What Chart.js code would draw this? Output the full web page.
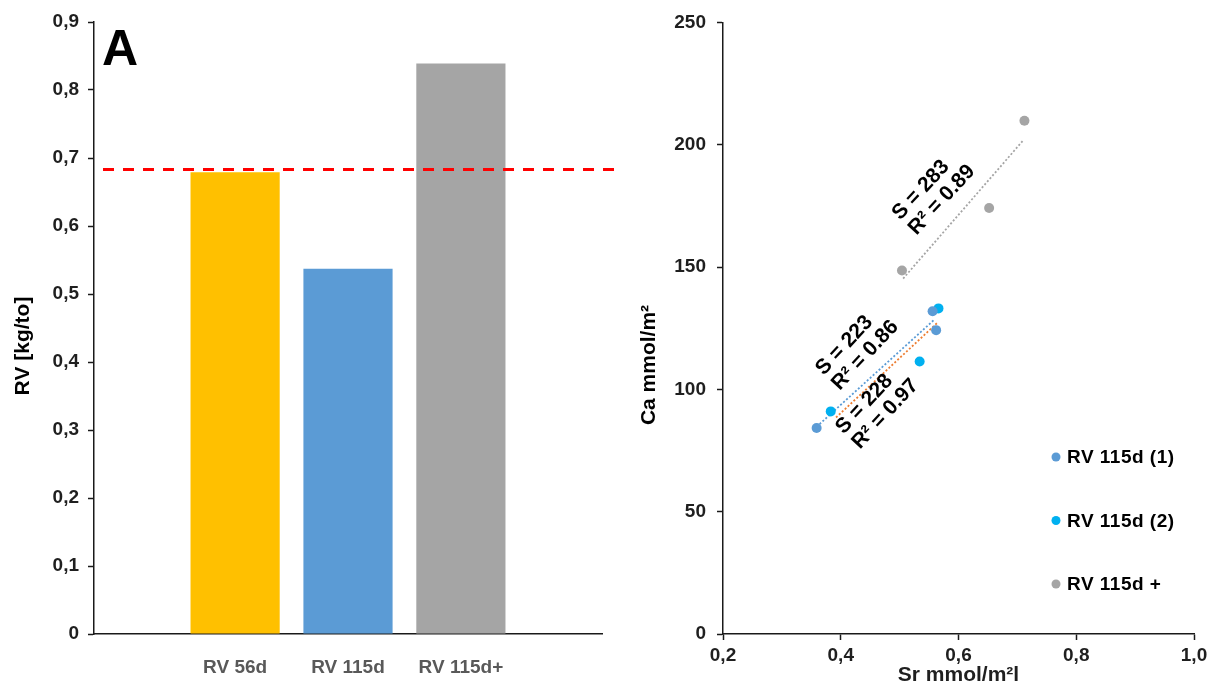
<!DOCTYPE html>
<html>
<head>
<meta charset="utf-8">
<script src="https://cdn.jsdelivr.net/npm/chart.js@4.4.1/dist/chart.umd.min.js"></script>
<style>
  html, body { margin: 0; padding: 0; background: #fff; }
  #wrap { position: relative; width: 1212px; height: 688px; }
  .box { position: absolute; top: 0; height: 688px; }
  #left { left: 0; width: 620px; }
  #right { left: 620px; width: 592px; }
</style>
</head>
<body>
<div id="wrap">
  <div class="box" id="left"><canvas id="barChart"></canvas></div>
  <div class="box" id="right"><canvas id="scatterChart"></canvas></div>
</div>
<script>
// panel A - bars
const barCategories = ["RV 56d", "RV 115d", "RV 115d+"];
const barValues = [0.679, 0.537, 0.839];
const referenceValue = 0.683;
const leftTickLabels = ["0", "0,1", "0,2", "0,3", "0,4", "0,5", "0,6", "0,7", "0,8", "0,9"];

// scatter panel
const seriesNames = ["RV 115d (1)", "RV 115d (2)", "RV 115d +"];
const srSeries1 = [0.359, 0.556, 0.562];
const caSeries1 = [84.2, 131.9, 124.2];
const srSeries2 = [0.383, 0.534, 0.566];
const caSeries2 = [91.0, 111.4, 133.1];
const srSeries3 = [0.504, 0.652, 0.712];
const caSeries3 = [148.6, 174.1, 209.8];

// trend lines (start / end)
const trendSr1 = [0.359, 0.558];
const trendCa1 = [84.7, 128.3];
const trendSr2 = [0.392, 0.564];
const trendCa2 = [88.5, 127.2];
const trendSr3 = [0.506, 0.710];
const trendCa3 = [145.3, 201.8];

const fitSlopes = ["S = 223", "S = 228", "S = 283"];
const fitR2 = ["R\u00B2 = 0.86", "R\u00B2 = 0.97", "R\u00B2 = 0.89"];
const fitLabelSr = [0.428, 0.462, 0.558];
const fitLabelCa = [117.0, 93.0, 180.5];

const srTickLabels = ["0,2", "0,4", "0,6", "0,8", "1,0"];
const caTickLabels = ["0", "50", "100", "150", "200", "250"];

const FONT = "'Liberation Sans', Arial, sans-serif";
Chart.defaults.font.family = FONT;
Chart.defaults.color = "#1f1f1f";

const barColors = ["#FFC000", "#5B9BD5", "#A5A5A5"];
const pointColors = ["#5B9BD5", "#00B0F0", "#A5A5A5"];
const trendColors = ["#5B9BD5", "#ED7D31", "#A5A5A5"];

function toPoints(xs, ys) {
    return xs.map((x, i) => ({ x: x, y: ys[i] }));
}

// free text (panel letter, y titles)
const panelText = {
    id: "panelText",
    afterDraw(chart, args, opts) {
        const ctx = chart.ctx;
        (opts.items || []).forEach((item) => {
            ctx.save();
            ctx.font = item.font;
            ctx.fillStyle = item.color || "#000";
            ctx.textAlign = item.align || "center";
            ctx.textBaseline = item.baseline || "middle";
            ctx.translate(item.x, item.y);
            if (item.rotate) ctx.rotate((item.rotate * Math.PI) / 180);
            ctx.fillText(item.text, 0, 0);
            ctx.restore();
        });
    },
};

const refLine = {
    id: "refLine",
    afterDatasetsDraw(chart) {
        const { ctx, chartArea, scales } = chart;
        const py = scales.y.getPixelForValue(referenceValue);
        ctx.save();
        ctx.strokeStyle = "#FF0000";
        ctx.lineWidth = 3;
        ctx.setLineDash([11, 9]);
        ctx.beginPath();
        ctx.moveTo(chartArea.left + 9, py);
        ctx.lineTo(chart.width, py);
        ctx.stroke();
        ctx.restore();
    },
};

const fitLabels = {
    id: "fitLabels",
    afterDatasetsDraw(chart) {
        const { ctx, scales } = chart;
        ctx.save();
        ctx.font = "bold 21px " + FONT;
        ctx.fillStyle = "#000";
        ctx.textBaseline = "middle";
        ctx.textAlign = "left";
        for (let i = 0; i < fitSlopes.length; i++) {
            const px = scales.x.getPixelForValue(fitLabelSr[i]);
            const py = scales.y.getPixelForValue(fitLabelCa[i]);
            const w = Math.max(ctx.measureText(fitSlopes[i]).width, ctx.measureText(fitR2[i]).width);
            ctx.save();
            ctx.translate(px, py);
            ctx.rotate((-47 * Math.PI) / 180);
            ctx.fillText(fitSlopes[i], -w / 2, -11);
            ctx.fillText(fitR2[i], -w / 2, 11);
            ctx.restore();
        }
        ctx.restore();
    },
};

const sideLegend = {
    id: "sideLegend",
    afterDraw(chart) {
        const ctx = chart.ctx;
        ctx.save();
        ctx.font = "bold 19px " + FONT;
        ctx.textBaseline = "middle";
        ctx.textAlign = "left";
        ctx.letterSpacing = "0.5px";
        for (let i = 0; i < seriesNames.length; i++) {
            const y = 457 + i * 63.5;
            ctx.fillStyle = pointColors[i];
            ctx.beginPath();
            ctx.arc(436, y, 4.5, 0, Math.PI * 2);
            ctx.fill();
            ctx.fillStyle = "#000";
            ctx.fillText(seriesNames[i], 447, y + 1);
        }
        ctx.restore();
    },
};

new Chart(document.getElementById("barChart"), {
    type: "bar",
    data: {
        datasets: [
            {
                data: toPoints([0, 1, 2], barValues),
                backgroundColor: barColors,
                barPercentage: 0.79,
                categoryPercentage: 1,
            },
        ],
    },
    options: {
        responsive: true,
        maintainAspectRatio: false,
        animation: false,
        layout: { padding: { top: 22, right: 18, left: 0, bottom: 0 } },
        plugins: {
            legend: { display: false },
            tooltip: { enabled: false },
            panelText: {
                items: [
                    { text: "A", x: 102, y: 65, align: "left", baseline: "alphabetic", font: "bold 50px " + FONT },
                    { text: "RV [kg/to]", x: 23, y: 346, rotate: -90, font: "bold 21px " + FONT },
                ],
            },
        },
        scales: {
            x: {
                type: "linear",
                offset: false,
                min: -1.25,
                max: 3.25,
                afterBuildTicks: (axis) => {
                    axis.ticks = barCategories.map((c, i) => ({ value: i }));
                },
                afterFit: (scale) => {
                    scale.height = 54;
                },
                grid: { display: false, offset: false },
                border: { color: "#1a1a1a", width: 1.5 },
                ticks: {
                    callback: (v, i) => barCategories[i],
                    color: "#595959",
                    font: { size: 19, weight: "bold" },
                    padding: 14,
                    maxRotation: 0,
                    autoSkip: false,
                },
            },
            y: {
                min: 0,
                max: 0.9,
                afterFit: (scale) => {
                    scale.width = 94;
                },
                grid: { drawOnChartArea: false, tickLength: 6, tickColor: "#1a1a1a", tickWidth: 1.5 },
                border: { color: "#1a1a1a", width: 1.5 },
                ticks: {
                    stepSize: 0.1,
                    callback: (v, i) => leftTickLabels[i],
                    font: { size: 19, weight: "bold" },
                    padding: 9,
                },
            },
        },
    },
    plugins: [refLine, panelText],
});

new Chart(document.getElementById("scatterChart"), {
    type: "scatter",
    data: {
        datasets: [
            { label: seriesNames[0], data: toPoints(srSeries1, caSeries1), backgroundColor: pointColors[0], borderWidth: 0, pointRadius: 5, order: 0 },
            { label: seriesNames[1], data: toPoints(srSeries2, caSeries2), backgroundColor: pointColors[1], borderWidth: 0, pointRadius: 5, order: 0 },
            { label: seriesNames[2], data: toPoints(srSeries3, caSeries3), backgroundColor: pointColors[2], borderWidth: 0, pointRadius: 5, order: 0 },
            { data: toPoints(trendSr1, trendCa1), showLine: true, borderColor: trendColors[0], borderWidth: 1.8, borderDash: [2, 2], pointRadius: 0, order: 1 },
            { data: toPoints(trendSr2, trendCa2), showLine: true, borderColor: trendColors[1], borderWidth: 1.8, borderDash: [2, 2], pointRadius: 0, order: 1 },
            { data: toPoints(trendSr3, trendCa3), showLine: true, borderColor: trendColors[2], borderWidth: 1.8, borderDash: [2, 2], pointRadius: 0, order: 1 },
        ],
    },
    options: {
        responsive: true,
        maintainAspectRatio: false,
        animation: false,
        layout: { padding: { top: 22, right: 18, left: 0, bottom: 0 } },
        plugins: {
            legend: { display: false },
            tooltip: { enabled: false },
            panelText: {
                items: [{ text: "Ca mmol/m\u00B2", x: 29, y: 365, rotate: -90, font: "bold 21px " + FONT }],
            },
        },
        scales: {
            x: {
                type: "linear",
                min: 0.2,
                max: 1.0,
                afterFit: (scale) => {
                    scale.height = 54;
                },
                grid: { drawOnChartArea: false, tickLength: 6, tickColor: "#1a1a1a", tickWidth: 1.5 },
                border: { color: "#1a1a1a", width: 1.5 },
                ticks: {
                    stepSize: 0.2,
                    callback: (v, i) => srTickLabels[i],
                    font: { size: 19, weight: "bold" },
                    padding: 4,
                    maxRotation: 0,
                },
                title: {
                    display: true,
                    text: "Sr mmol/m\u00B2l",
                    font: { size: 21, weight: "bold" },
                    color: "#1f1f1f",
                    padding: 0,
                },
            },
            y: {
                min: 0,
                max: 250,
                afterFit: (scale) => {
                    scale.width = 103;
                },
                grid: { drawOnChartArea: false, tickLength: 6, tickColor: "#1a1a1a", tickWidth: 1.5 },
                border: { color: "#1a1a1a", width: 1.5 },
                ticks: {
                    stepSize: 50,
                    callback: (v, i) => caTickLabels[i],
                    font: { size: 19, weight: "bold" },
                    padding: 11,
                },
            },
        },
    },
    plugins: [fitLabels, sideLegend, panelText],
});
</script>
</body>
</html>
